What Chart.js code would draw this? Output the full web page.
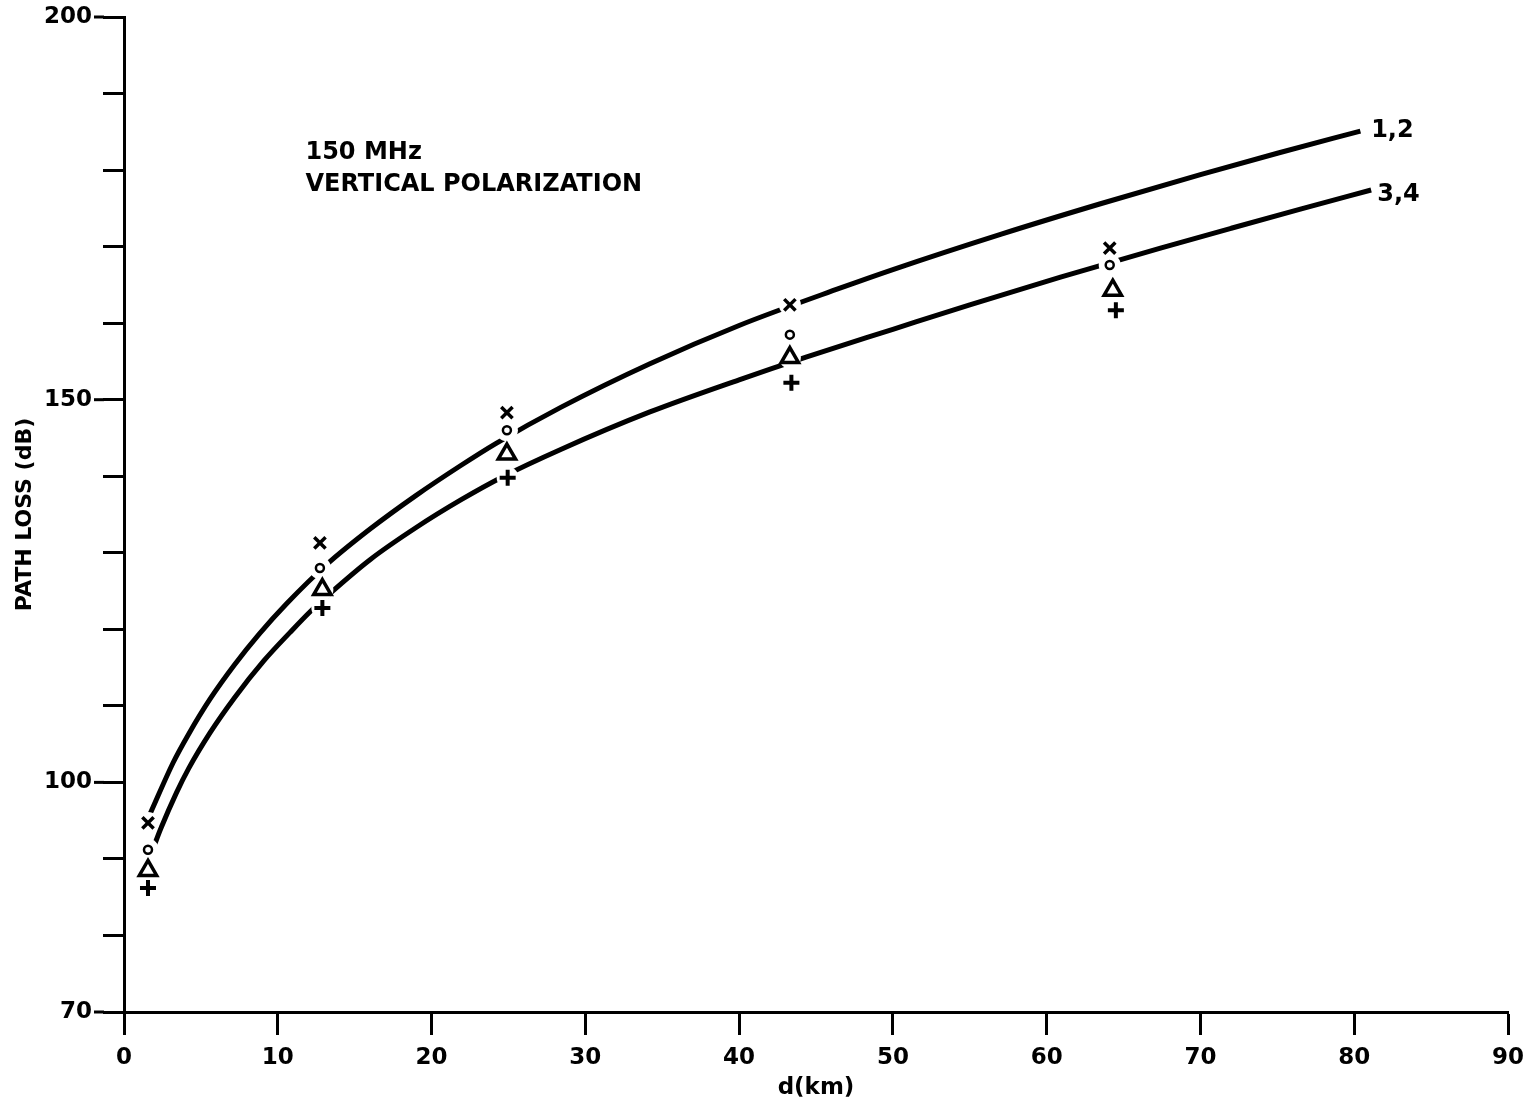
<!DOCTYPE html>
<html>
<head>
<meta charset="utf-8">
<script src="https://cdn.jsdelivr.net/npm/chart.js@4.4.0/dist/chart.umd.min.js"></script>
<style>
  body { margin: 0; background: #fff; }
  #chart0 { display: block; }
</style>
</head>
<body>
<canvas id="chart0" width="1534" height="1104"></canvas>
<script>
// curve 1,2 : distance (km) / path loss (dB)
const curve12_d    = [1.7, 3.2, 4.2, 5.6, 7.2, 8.8, 10.6, 13.2, 16.0, 19.0, 21.9, 24.2, 28.4, 34.2, 40.0, 46.6, 50, 57, 63.5, 70, 75, 80.4];
const curve12_loss = [95.9, 102.6, 106.3, 110.9, 115.4, 119.4, 123.4, 128.5, 133.1, 137.5, 141.4, 144.3, 149.0, 154.7, 159.7, 164.6, 167.0, 171.6, 175.6, 179.4, 182.2, 185.1];

// curve 3,4
const curve34_d    = [1.9, 2.4, 3.4, 4.2, 5.6, 7.2, 9.1, 10.8, 12.1, 13.4, 16.0, 19.0, 21.9, 24.6, 28.4, 34.2, 40.0, 44.4, 50, 55, 60.9, 67.4, 72, 76.5, 81.1];
const curve34_loss = [91.4, 94.0, 98.6, 101.8, 106.5, 111.1, 115.9, 119.6, 122.3, 124.7, 129.1, 133.3, 136.9, 139.9, 143.5, 148.4, 152.6, 155.6, 159.2, 162.4, 166.0, 169.8, 172.4, 174.9, 177.4];

// measured points (x, o, triangle, +)
const meas_x_d    = [1.56, 12.74, 24.9, 43.3, 64.1];
const meas_x_loss = [94.7, 131.3, 148.3, 162.4, 169.8];
const meas_o_d    = [1.56, 12.74, 24.9, 43.3, 64.1];
const meas_o_loss = [91.2, 128.0, 146.0, 158.5, 167.6];
const meas_tri_d    = [1.56, 12.9, 24.9, 43.3, 64.3];
const meas_tri_loss = [88.5, 125.2, 142.9, 155.5, 164.3];
const meas_plus_d    = [1.56, 12.9, 24.95, 43.4, 64.5];
const meas_plus_loss = [86.2, 122.8, 139.8, 152.2, 161.7];

// axis ticks
const xTicks = [0, 10, 20, 30, 40, 50, 60, 70, 80, 90];
const yLabelled = [70, 100, 150, 200];

// text written on the plot, placed in data units
const notes = [
  { text: '150 MHz', d: 11.8, loss: 182.25 },
  { text: 'VERTICAL POLARIZATION', d: 11.8, loss: 178.05 },
  { text: '1,2', d: 81.1, loss: 185.15 },
  { text: '3,4', d: 81.5, loss: 176.8 }
];

const FONT = 'DejaVu Sans';

function pts(xs, ys) {
  return xs.map((x, i) => ({ x: x, y: ys[i] }));
}

function curve(xs, ys) {
  return {
    data: pts(xs, ys),
    showLine: true,
    borderColor: '#000',
    borderWidth: 5,
    pointRadius: 0,
    cubicInterpolationMode: 'monotone',
    order: 3
  };
}

// white disc under a marker, so the curve breaks around it like the pen did
function halo(xs, ys) {
  return {
    data: pts(xs, ys),
    pointStyle: 'circle',
    pointRadius: 11,
    pointBackgroundColor: '#fff',
    pointBorderWidth: 0,
    order: 2
  };
}

function marker(xs, ys, style, r, w) {
  return {
    data: pts(xs, ys),
    pointStyle: style,
    pointRadius: r,
    pointBorderColor: '#000',
    pointBackgroundColor: '#fff',
    pointBorderWidth: w,
    order: 1
  };
}

// long ticks at labelled values + lettering on the plot
const extras = {
  id: 'extras',
  afterDraw(chart) {
    const ctx = chart.ctx;
    const xs = chart.scales.x, ys = chart.scales.y;
    ctx.save();
    ctx.strokeStyle = '#000';
    ctx.lineWidth = 3;
    yLabelled.forEach(v => {
      const py = ys.getPixelForValue(v);
      ctx.beginPath();
      ctx.moveTo(ys.right - 30, py);
      ctx.lineTo(ys.right - 20, py);
      ctx.stroke();
    });
    ctx.fillStyle = '#000';
    ctx.font = 'bold 24px "' + FONT + '"';
    ctx.textAlign = 'left';
    ctx.textBaseline = 'middle';
    notes.forEach(n => {
      ctx.fillText(n.text, xs.getPixelForValue(n.d), ys.getPixelForValue(n.loss));
    });
    ctx.restore();
  }
};

function makeChart(container) {
  let ctx = document.getElementById(container).getContext('2d');
  return new Chart(ctx, {
    type: 'scatter',
    data: {
      datasets: [
        curve(curve12_d, curve12_loss),
        curve(curve34_d, curve34_loss),
        halo(meas_x_d, meas_x_loss),
        halo(meas_o_d, meas_o_loss),
        halo(meas_tri_d, meas_tri_loss),
        halo(meas_plus_d, meas_plus_loss),
        marker(meas_x_d, meas_x_loss, 'crossRot', 8, 3.5),
        marker(meas_o_d, meas_o_loss, 'circle', 4, 2.5),
        marker(meas_tri_d, meas_tri_loss, 'triangle', 10, 3.5),
        marker(meas_plus_d, meas_plus_loss, 'cross', 8, 4)
      ]
    },
    options: {
      responsive: false,
      animation: false,
      layout: { padding: { top: 17, right: 26, bottom: 0, left: 0 } },
      plugins: {
        legend: { display: false },
        tooltip: { enabled: false }
      },
      scales: {
        //x axis detail
        x: {
          type: 'linear',
          min: 0,
          max: 90,
          afterFit: s => { s.height = 92; },
          afterBuildTicks: s => { s.ticks = xTicks.map(v => ({ value: v })); },
          border: { color: '#000', width: 3 },
          grid: { drawOnChartArea: false, drawTicks: true, tickLength: 23, tickWidth: 3, tickColor: '#000' },
          ticks: { color: '#000', padding: 9, maxRotation: 0, font: { family: FONT, size: 23, weight: 'bold' } },
          title: {
            display: true,
            text: 'd(km)',
            color: '#000',
            font: { family: FONT, size: 23, weight: 'bold' },
            padding: { top: 0, bottom: 2 }
          }
        },
        //y axis detail
        y: {
          type: 'linear',
          min: 70,
          max: 200,
          // fixed width, and let the top label hang over the padding
          afterFit: s => { s.width = 124; s.paddingTop = 0; },
          border: { color: '#000', width: 3 },
          grid: { drawOnChartArea: false, drawTicks: true, tickLength: 21, tickWidth: 3, tickColor: '#000' },
          ticks: {
            stepSize: 10,
            color: '#000',
            padding: 11,
            font: { family: FONT, size: 23, weight: 'bold' },
            callback: function(value) {
              return yLabelled.includes(value) ? String(value) : '';
            }
          },
          title: {
            display: true,
            text: 'PATH LOSS (dB)',
            color: '#000',
            font: { family: FONT, size: 22, weight: 'bold' },
            padding: { top: 12, bottom: 0 }
          }
        }
      }
    },
    plugins: [extras]
  });
}

let myChart = makeChart('chart0');
</script>
</body>
</html>
